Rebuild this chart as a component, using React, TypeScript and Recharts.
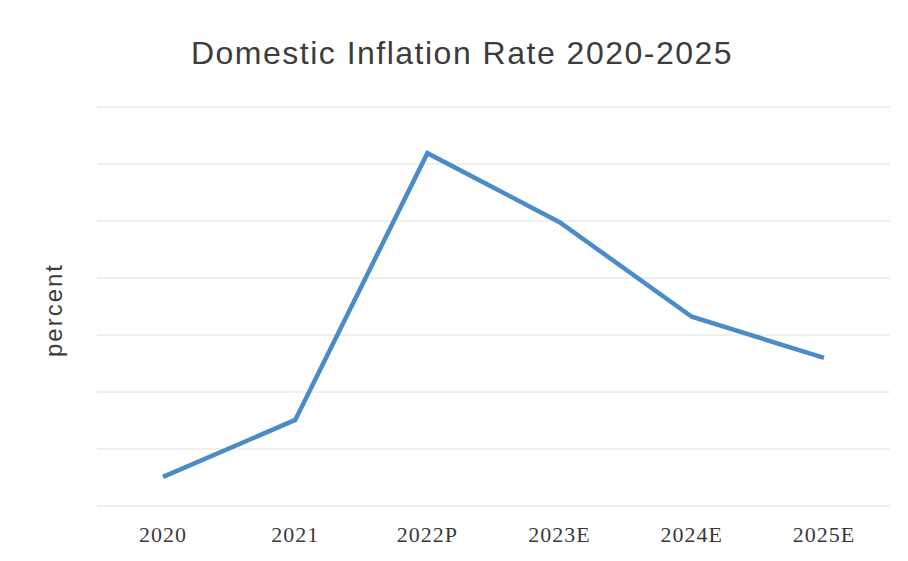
import { LineChart, Line, XAxis, YAxis, CartesianGrid } from 'recharts';

const years = ['2020', '2021', '2022P', '2023E', '2024E', '2025E'];
const inflation = [0.51, 1.51, 6.19, 4.98, 3.32, 2.6];
const yTicks = [0, 1, 2, 3, 4, 5, 6, 7];

const data = years.map((year, i) => ({ year, value: inflation[i] }));

export default function App() {
  return (
    <div style={{ position: 'absolute', left: 0, top: 0, width: 908, height: 561, background: '#fff' }}>
      <LineChart
        width={908}
        height={561}
        data={data}
        margin={{ top: 107, right: 18, bottom: 25, left: 97 }}
      >
        <CartesianGrid vertical={false} stroke="#e0e0e0" strokeWidth={1} />
        <XAxis
          dataKey="year"
          axisLine={false}
          tickLine={false}
          height={30}
          tickMargin={14}
          padding={{ left: 66, right: 66 }}
          tick={{ fill: '#3a3a3a', fontSize: 22, fontFamily: '"Liberation Serif", serif', letterSpacing: 1 }}
        />
        <YAxis hide domain={[0, 7]} ticks={yTicks} />
        <Line
          type="linear"
          dataKey="value"
          stroke="#4a8bc8"
          strokeWidth={4.5}
          dot={false}
          isAnimationActive={false}
        />
      </LineChart>
      <svg
        width={908}
        height={561}
        style={{ position: 'absolute', left: 0, top: 0, pointerEvents: 'none' }}
      >
        <text
          x={462}
          y={64}
          textAnchor="middle"
          fill="#3c3c3c"
          fontSize={32}
          letterSpacing={1.5}
          fontFamily='"Liberation Sans", Arial, sans-serif'
        >
          Domestic Inflation Rate 2020-2025
        </text>
        <text
          x={62}
          y={310}
          transform="rotate(-90, 62, 310)"
          textAnchor="middle"
          fill="#3c3c3c"
          fontSize={24}
          letterSpacing={2}
          fontFamily='"Liberation Sans", Arial, sans-serif'
        >
          percent
        </text>
      </svg>
    </div>
  );
}
